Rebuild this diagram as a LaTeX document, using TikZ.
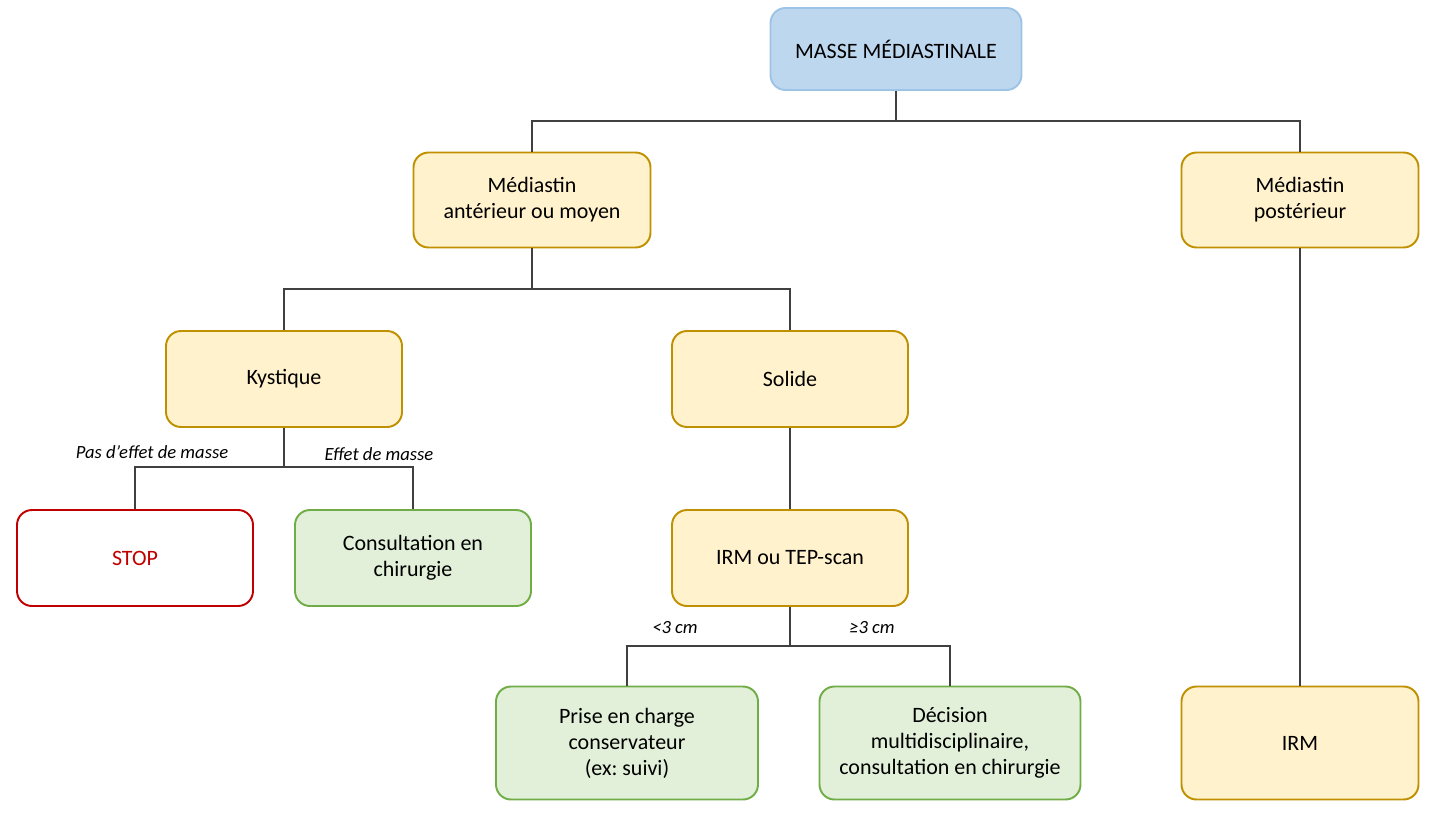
\documentclass[tikz,border=0pt]{standalone}
\usepackage{fontspec}
\setmainfont{Carlito}
\frenchspacing
\definecolor{bluefill}{HTML}{BDD7EE}
\definecolor{blueline}{HTML}{9DC3E6}
\definecolor{yelfill}{HTML}{FFF2CC}
\definecolor{yelline}{HTML}{BF9000}
\definecolor{grnfill}{HTML}{E2F0D9}
\definecolor{grnline}{HTML}{70AD47}
\definecolor{redline}{HTML}{C00000}
\begin{document}
\begin{tikzpicture}[x=0.02cm,y=-0.02cm,
  box/.style={draw, rounded corners=0.3cm, line width=1.1pt, align=center,
    font=\fontsize{12.5}{14.8}\selectfont, inner sep=0pt},
  bluebox/.style={box, fill=bluefill, draw=blueline},
  yelbox/.style={box, fill=yelfill, draw=yelline},
  grnbox/.style={box, fill=grnfill, draw=grnline},
  redbox/.style={box, fill=white, draw=redline, text=redline},
  conn/.style={draw=black!75, line width=0.6pt},
  lbl/.style={font=\fontsize{10.6}{12}\selectfont\itshape, inner sep=0pt}]
\useasboundingbox (0,0) rectangle (1440,818);
\node[bluebox, minimum width=251*0.02cm, minimum height=82*0.02cm] (root) at (896,49) {MASSE MÉDIASTINALE};
\node[yelbox, minimum width=237*0.02cm, minimum height=95*0.02cm] (ant) at (532,200) {Médiastin\\antérieur ou moyen};
\node[yelbox, minimum width=237*0.02cm, minimum height=95*0.02cm] (post) at (1300,200) {Médiastin\\postérieur};
\node[yelbox, minimum width=236*0.02cm, minimum height=96*0.02cm] (kys) at (284,379) {Kystique};
\node[yelbox, minimum width=236*0.02cm, minimum height=96*0.02cm] (sol) at (790,379) {Solide};
\node[redbox, minimum width=236*0.02cm, minimum height=96*0.02cm] (stop) at (135,558) {STOP};
\node[grnbox, minimum width=236*0.02cm, minimum height=96*0.02cm] (cons) at (413,558) {Consultation en\\chirurgie};
\node[yelbox, minimum width=236*0.02cm, minimum height=96*0.02cm] (irmtep) at (790,558) {IRM ou TEP-scan};
\node[grnbox, minimum width=262*0.02cm, minimum height=113*0.02cm] (prise) at (627,743) {Prise en charge\\conservateur\\(ex: suivi)};
\node[grnbox, minimum width=261*0.02cm, minimum height=113*0.02cm] (dec) at (950,743) {Décision\\multidisciplinaire,\\consultation en chirurgie};
\node[yelbox, minimum width=237*0.02cm, minimum height=113*0.02cm] (irm) at (1300,743) {IRM};

\draw[conn] (root.south) |- (532,121) coordinate (j1) -| (ant.north);
\draw[conn] (j1) -| (post.north);
\draw[conn] (ant.south) |- (284,289) coordinate (j2) -| (kys.north);
\draw[conn] (j2) -| (sol.north);
\draw[conn] (kys.south) |- (135,467) coordinate (j3) -| (stop.north);
\draw[conn] (j3) -| (cons.north);
\draw[conn] (sol.south) -- (irmtep.north);
\draw[conn] (irmtep.south) |- (627,646) coordinate (j4) -| (prise.north);
\draw[conn] (j4) -| (dec.north);
\draw[conn] (post.south) -- (irm.north);

\node[lbl] (l1) at (152,452) {Pas d’effet de masse};
\node[lbl] (l2) at (379,454) {Effet de masse};
\node[lbl] (l3) at (675,628) {<3 cm};
\node[lbl] (l4) at (872,628) {≥3 cm};
\end{tikzpicture}
\end{document}
